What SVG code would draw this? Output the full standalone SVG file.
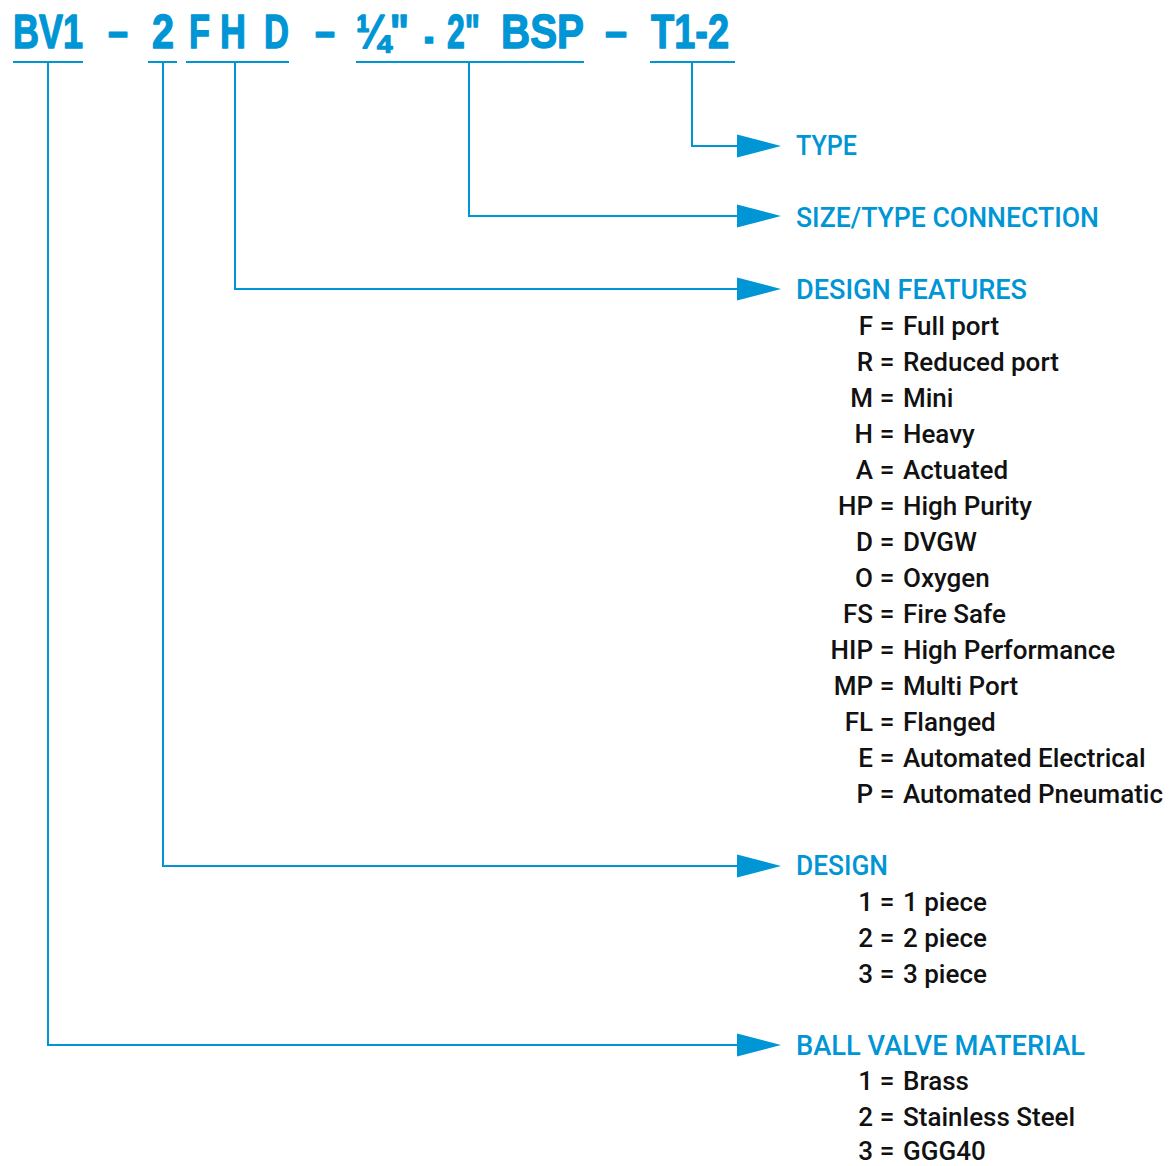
<svg xmlns="http://www.w3.org/2000/svg" xmlns:xlink="http://www.w3.org/1999/xlink" width="1176" height="1166" viewBox="0 0 1176 1166">
<style>
.t{font-family:"Liberation Sans",Arial,sans-serif;font-weight:bold;font-size:49px;fill:#0095d5;stroke:#0095d5;stroke-width:1.4;stroke-linejoin:round}
.ln{stroke:#0095d5;stroke-width:2;fill:none}
.lbl{font-family:Roboto,"Liberation Sans",sans-serif;font-weight:500;font-size:28px;fill:#0095d5}
.it{font-family:Roboto,"Liberation Sans",sans-serif;font-weight:500;font-size:26px;fill:#111}
.k{text-anchor:end}
.eq{text-anchor:middle}
</style>
<defs>
<path id="ah" d="M0,-11.5 L44,0 L0,11.5 Z" fill="#0095d5"/>
</defs>
<rect width="1176" height="1166" fill="#fff"/>
<g id="title">
<text class="t" x="13" y="48" textLength="70" lengthAdjust="spacingAndGlyphs">BV1</text>
<text class="t" x="108" y="48" textLength="20" lengthAdjust="spacingAndGlyphs">–</text>
<text class="t" x="152" y="48" textLength="22" lengthAdjust="spacingAndGlyphs">2</text>
<text class="t" x="189" y="48" textLength="21" lengthAdjust="spacingAndGlyphs">F</text>
<text class="t" x="220" y="48" textLength="26" lengthAdjust="spacingAndGlyphs">H</text>
<text class="t" x="264" y="48" textLength="25" lengthAdjust="spacingAndGlyphs">D</text>
<text class="t" x="315" y="48" textLength="20" lengthAdjust="spacingAndGlyphs">–</text>
<text class="t" x="356" y="48" textLength="53" lengthAdjust="spacingAndGlyphs">¼"</text>
<text class="t" x="424" y="53" textLength="10" lengthAdjust="spacingAndGlyphs">-</text>
<text class="t" x="447" y="48" textLength="33" lengthAdjust="spacingAndGlyphs">2"</text>
<text class="t" x="501" y="48" textLength="83" lengthAdjust="spacingAndGlyphs">BSP</text>
<text class="t" x="605" y="48" textLength="22" lengthAdjust="spacingAndGlyphs">–</text>
<text class="t" x="651" y="48" textLength="78" lengthAdjust="spacingAndGlyphs">T1-2</text>
</g>
<g id="connectors" class="ln">
<path d="M13,62H83 M148,62H177 M186,62H289 M356,62H584 M650,62H735"/>
<path d="M692,62V146H740"/>
<path d="M469,62V216H740"/>
<path d="M235,62V289H740"/>
<path d="M163,62V866H740"/>
<path d="M48,62V1045H740"/>
<use xlink:href="#ah" x="737" y="146" stroke="none"/>
<use xlink:href="#ah" x="737" y="216" stroke="none"/>
<use xlink:href="#ah" x="737" y="289" stroke="none"/>
<use xlink:href="#ah" x="737" y="866" stroke="none"/>
<use xlink:href="#ah" x="737" y="1045" stroke="none"/>
</g>
<g id="type">
<text class="lbl" x="796" y="155" textLength="61" lengthAdjust="spacingAndGlyphs">TYPE</text>
</g>
<g id="size">
<text class="lbl" x="796" y="227" textLength="303" lengthAdjust="spacingAndGlyphs">SIZE/TYPE CONNECTION</text>
</g>
<g id="features">
<text class="lbl" x="796" y="299" textLength="231" lengthAdjust="spacingAndGlyphs">DESIGN FEATURES</text>
<g class="it">
<text class="k" x="873" y="335">F</text><text class="eq" x="887" y="335">=</text><text x="903" y="335">Full port</text>
<text class="k" x="873" y="371">R</text><text class="eq" x="887" y="371">=</text><text x="903" y="371">Reduced port</text>
<text class="k" x="873" y="407">M</text><text class="eq" x="887" y="407">=</text><text x="903" y="407">Mini</text>
<text class="k" x="873" y="443">H</text><text class="eq" x="887" y="443">=</text><text x="903" y="443">Heavy</text>
<text class="k" x="873" y="479">A</text><text class="eq" x="887" y="479">=</text><text x="903" y="479">Actuated</text>
<text class="k" x="873" y="515">HP</text><text class="eq" x="887" y="515">=</text><text x="903" y="515">High Purity</text>
<text class="k" x="873" y="551">D</text><text class="eq" x="887" y="551">=</text><text x="903" y="551">DVGW</text>
<text class="k" x="873" y="587">O</text><text class="eq" x="887" y="587">=</text><text x="903" y="587">Oxygen</text>
<text class="k" x="873" y="623">FS</text><text class="eq" x="887" y="623">=</text><text x="903" y="623">Fire Safe</text>
<text class="k" x="873" y="659">HIP</text><text class="eq" x="887" y="659">=</text><text x="903" y="659">High Performance</text>
<text class="k" x="873" y="695">MP</text><text class="eq" x="887" y="695">=</text><text x="903" y="695">Multi Port</text>
<text class="k" x="873" y="731">FL</text><text class="eq" x="887" y="731">=</text><text x="903" y="731">Flanged</text>
<text class="k" x="873" y="767">E</text><text class="eq" x="887" y="767">=</text><text x="903" y="767">Automated Electrical</text>
<text class="k" x="873" y="803">P</text><text class="eq" x="887" y="803">=</text><text x="903" y="803">Automated Pneumatic</text>
</g>
</g>
<g id="design">
<text class="lbl" x="796" y="875" textLength="92" lengthAdjust="spacingAndGlyphs">DESIGN</text>
<g class="it">
<text class="k" x="873" y="911">1</text><text class="eq" x="887" y="911">=</text><text x="903" y="911">1 piece</text>
<text class="k" x="873" y="947">2</text><text class="eq" x="887" y="947">=</text><text x="903" y="947">2 piece</text>
<text class="k" x="873" y="983">3</text><text class="eq" x="887" y="983">=</text><text x="903" y="983">3 piece</text>
</g>
</g>
<g id="material">
<text class="lbl" x="796" y="1055" textLength="289" lengthAdjust="spacingAndGlyphs">BALL VALVE MATERIAL</text>
<g class="it">
<text class="k" x="873" y="1090">1</text><text class="eq" x="887" y="1090">=</text><text x="903" y="1090">Brass</text>
<text class="k" x="873" y="1126">2</text><text class="eq" x="887" y="1126">=</text><text x="903" y="1126">Stainless Steel</text>
<text class="k" x="873" y="1160">3</text><text class="eq" x="887" y="1160">=</text><text x="903" y="1160">GGG40</text>
</g>
</g>
</svg>
